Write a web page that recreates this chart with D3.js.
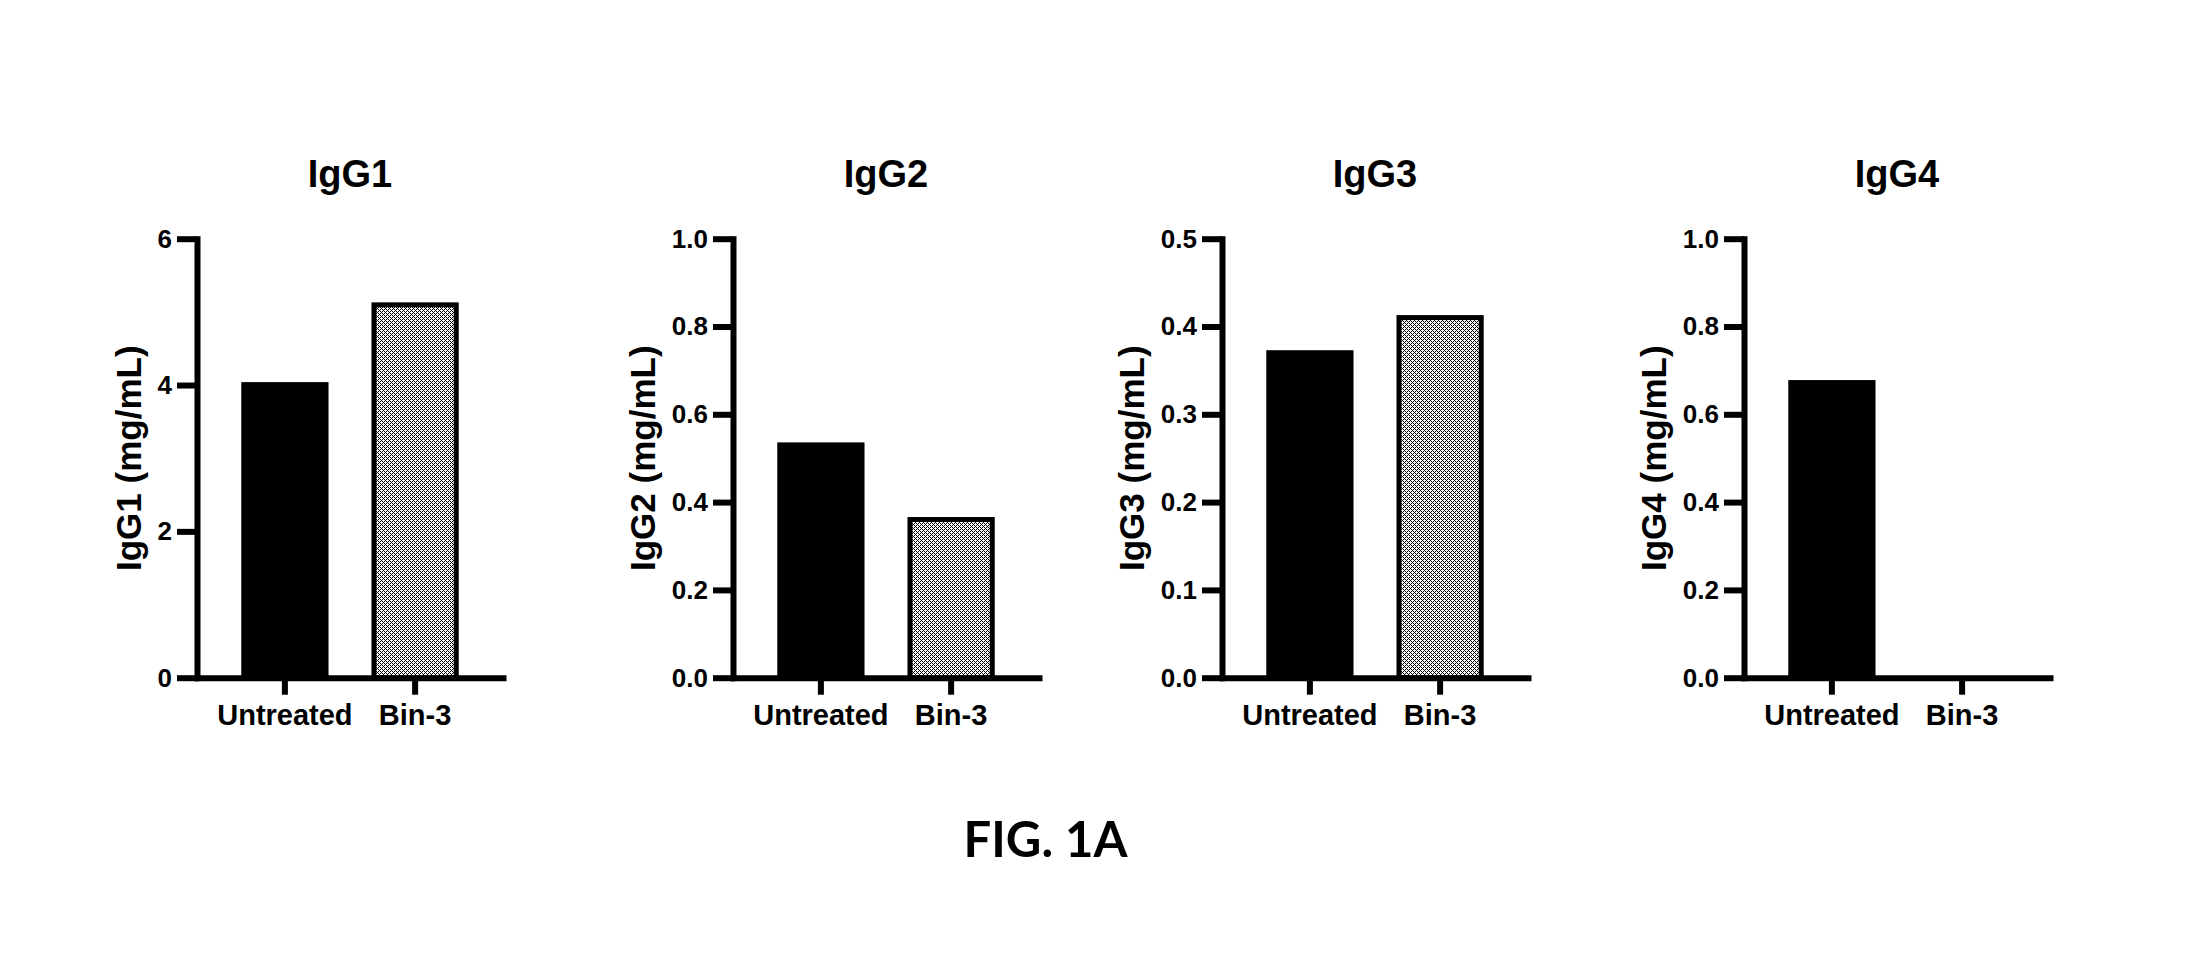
<!DOCTYPE html>
<html><head><meta charset="utf-8">
<script src="https://cdn.jsdelivr.net/npm/d3@7"></script>
<style>html,body{margin:0;padding:0;background:#fff;} svg{display:block}</style>
</head><body><svg id="chart" width="2206" height="979"></svg>
<script>
// ---------------- data ----------------
const categories = ["Untreated", "Bin-3"];
const panelTitles = ["IgG1", "IgG2", "IgG3", "IgG4"];
const yAxisLabels = ["IgG1 (mg/mL)", "IgG2 (mg/mL)", "IgG3 (mg/mL)", "IgG4 (mg/mL)"];
const untreatedValues = [4.04, 0.536, 0.373, 0.678];
const bin3Values = [5.13, 0.366, 0.413, 0];
const yMaxValues = [6, 1.0, 0.5, 1.0];
const yTickValues = [
  [0, 2, 4, 6],
  [0, 0.2, 0.4, 0.6, 0.8, 1.0],
  [0, 0.1, 0.2, 0.3, 0.4, 0.5],
  [0, 0.2, 0.4, 0.6, 0.8, 1.0]
];
const yTickFormats = ["d", ".1f", ".1f", ".1f"];
const figureLabel = "FIG. 1A";

// ---------------- layout ----------------
const W = 2206, H = 979;
const panelX = [197, 733, 1222, 1744];
const yTop = 238.7, yBottom = 677.7, plotW = 306;
const FONT = "'Liberation Sans', Arial, sans-serif";
const LW = 6;

const svg = d3.select("#chart");
svg.append("rect").attr("width", W).attr("height", H).attr("fill", "#fff");

// fine crosshatch pattern
const defs = svg.append("defs");
const pat = defs.append("pattern").attr("id", "hatch")
  .attr("width", 4).attr("height", 4).attr("patternUnits", "userSpaceOnUse");
pat.append("rect").attr("width", 4).attr("height", 4).attr("fill", "#fff");
const cells = [];
for (let i = 0; i < 4; i++) for (let j = 0; j < 4; j++)
  if ((i + j) % 4 === 0 || (i - j + 4) % 4 === 0) cells.push([i, j]);
pat.selectAll("rect.c").data(cells).join("rect").attr("class", "c")
  .attr("x", d => d[0]).attr("y", d => d[1]).attr("width", 1).attr("height", 1)
  .attr("fill", "#000").attr("shape-rendering", "crispEdges");

panelTitles.forEach((title, p) => {
  const g = svg.append("g").attr("transform", `translate(${panelX[p]},0)`);
  const x = d3.scaleBand().domain(categories).range([0, plotW])
    .paddingInner(0.33).paddingOuter(0.34);
  const y = d3.scaleLinear().domain([0, yMaxValues[p]]).range([yBottom, yTop]);

  const vals = [untreatedValues[p], bin3Values[p]];
  const bw = x.bandwidth();

  // bars
  g.selectAll("rect.bar").data(categories.map((c, i) => ({ c, v: vals[i], i })))
    .join("rect").attr("class", "bar")
    .attr("x", d => d.i === 0 ? x(d.c) : x(d.c) + 2.5)
    .attr("width", d => d.i === 0 ? bw : bw - 5)
    .attr("y", d => d.i === 0 ? y(d.v) : y(d.v) + 2.5)
    .attr("height", d => Math.max(0, yBottom - y(d.v) - (d.i === 0 ? 0 : 2.5)))
    .attr("fill", d => d.i === 0 ? "#000" : "url(#hatch)")
    .attr("stroke", d => d.i === 0 ? "none" : "#000")
    .attr("stroke-width", 5);

  // x axis
  const xAxis = g.append("g").attr("transform", `translate(0,${yBottom})`)
    .call(d3.axisBottom(x).tickSize(17).tickSizeOuter(0).tickPadding(10));
  xAxis.select(".domain").attr("stroke-width", LW).attr("stroke-linecap", "square");
  xAxis.selectAll(".tick line").attr("stroke-width", LW);
  xAxis.selectAll(".tick text").attr("font-family", FONT).attr("font-weight", "bold")
    .attr("font-size", 29).attr("fill", "#000");

  // y axis
  const yAxis = g.append("g")
    .call(d3.axisLeft(y).tickValues(yTickValues[p]).tickFormat(d3.format(yTickFormats[p]))
      .tickSize(20).tickSizeOuter(0).tickPadding(5));
  yAxis.select(".domain").attr("stroke-width", LW).attr("stroke-linecap", "square");
  yAxis.selectAll(".tick line").attr("stroke-width", LW);
  yAxis.selectAll(".tick text").attr("font-family", FONT).attr("font-weight", "bold")
    .attr("font-size", 26).attr("fill", "#000");

  let maxW = 0;
  yAxis.selectAll(".tick text").each(function () { maxW = Math.max(maxW, this.getBBox().width); });

  // y label
  const lx = -25 - maxW - 16;
  g.append("text").attr("transform", `translate(${lx},${(yTop + yBottom) / 2}) rotate(-90)`)
    .attr("text-anchor", "middle").attr("font-family", FONT).attr("font-weight", "bold")
    .attr("font-size", 35).attr("fill", "#000").text(yAxisLabels[p]);

  // title
  g.append("text").attr("x", plotW / 2).attr("y", 187).attr("text-anchor", "middle")
    .attr("font-family", FONT).attr("font-weight", "bold").attr("font-size", 38)
    .attr("fill", "#000").text(title);
});

svg.append("text").attr("x", 1045.5).attr("y", 857).attr("text-anchor", "middle")
  .attr("font-family", "Lato, 'Open Sans', sans-serif").attr("font-weight", "bold")
  .attr("font-size", 49).attr("fill", "#000").text(figureLabel);
</script>
</body></html>
